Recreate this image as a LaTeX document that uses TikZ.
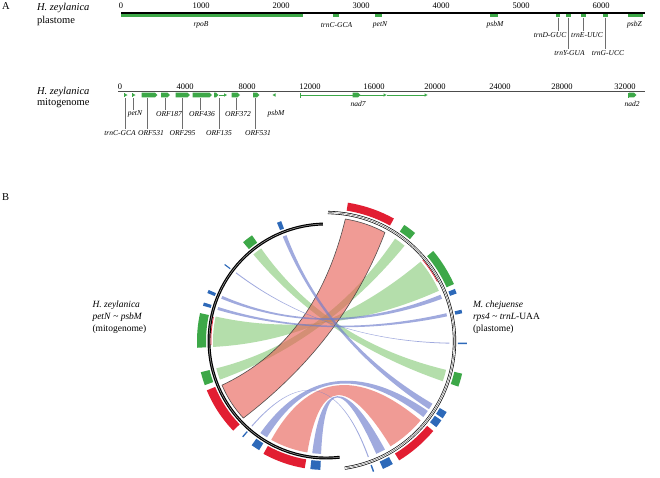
\documentclass[tikz,border=0pt]{standalone}
\usepackage{fontspec}
\setmainfont{Liberation Serif}
\usetikzlibrary{arrows.meta,calc}

\definecolor{gblk}{RGB}{61,168,72}
\definecolor{grib}{RGB}{130,200,115}
\definecolor{rblk}{RGB}{226,30,50}
\definecolor{rrib}{RGB}{232,95,85}
\definecolor{bblk}{RGB}{45,105,185}
\definecolor{brib}{RGB}{110,125,205}
\definecolor{lead}{RGB}{110,110,110}

\newcommand{\ribL}{113}
\newcommand{\ribR}{123.5}
% untwisted ribbon: style, left a1, a2, right b1, b2
\newcommand{\myribbon}[5]{\path[#1] ({#2}:\ribL) arc[start angle={#2}, end angle={#3}, radius=\ribL] .. controls ({#3}:{\ribL/3}) and ({#4}:{\ribR/3}) .. ({#4}:\ribR) arc[start angle={#4}, end angle={#5}, radius=\ribR] .. controls ({#5}:{\ribR/3}) and ({#2}:{\ribL/3}) .. cycle;}
% twisted ribbon
\newcommand{\myribbonx}[5]{\path[#1] ({#2}:\ribL) arc[start angle={#2}, end angle={#3}, radius=\ribL] .. controls ({#3}:{\ribL/3}) and ({#5}:{\ribR/3}) .. ({#5}:\ribR) arc[start angle={#5}, end angle={#4}, radius=\ribR] .. controls ({#4}:{\ribR/3}) and ({#2}:{\ribL/3}) .. cycle;}
% block: colour, a1, a2, r1, r2
\newcommand{\myblock}[5]{\fill[#1] ({#2}:#4) arc[start angle={#2}, end angle={#3}, radius=#4] -- ({#3}:#5) arc[start angle={#3}, end angle={#2}, radius=#5] -- cycle;}
% gene arrow on mitogenome track
\newcommand{\garrow}[2]{\fill[gblk] (#1,92.7) -- ({#2-2.5},92.7) -- (#2,95) -- ({#2-2.5},97.3) -- (#1,97.3) -- cycle;}
\newcommand{\gtip}[1]{\fill[gblk] (#1,93.3) -- ({#1+3},95) -- (#1,96.7) -- cycle;}

\begin{document}
\begin{tikzpicture}[x=1pt,y=-1pt, every node/.style={inner sep=0pt, outer sep=0pt},
  num/.style={font=\fontsize{8.5}{10}\selectfont},
  gene/.style={font=\fontsize{7.5}{9}\selectfont\itshape},
  ttl/.style={font=\fontsize{10.5}{12}\selectfont, anchor=west},
  leadline/.style={draw=lead, line width=0.6pt},
  gR/.style={fill=grib, fill opacity=0.6},
  bR/.style={fill=brib, fill opacity=0.65},
  rR/.style={fill=rrib, fill opacity=0.62}]
\useasboundingbox[fill=white] (0,0) rectangle (660,477);

% ---------------- A: plastome ----------------
\node[ttl] (A) at (2,6) {A};
\node[ttl] (hz1) at (37,8.3) {\textit{H. zeylanica}};
\node[ttl] (pl) at (37,20.7) {plastome};

\coordinate (p0) at (121,13);
\coordinate (p1) at (645,13);
\draw[line width=1.6pt] (p0) -- (p1);
\foreach \t/\x in {0/121,1000/201,2000/281,3000/361,4000/441,5000/521,6000/601}
  \node[num] (pt\t) at (\x,6) {\t};

\foreach \a/\b in {121/303, 333/338.5, 375/382, 490/498, 555.5/560, 565.5/571, 581/586, 603/607.5, 628/643}
  \fill[gblk] (\a,14.4) rectangle (\b,17);

\node[gene] (rpoB) at (201,25) {rpoB};
\node[gene] (trnC) at (336.5,25) {trnC-GCA};
\node[gene] (petN) at (380,25) {petN};
\node[gene] (psbM) at (495,25) {psbM};
\node[gene] (psbZ) at (634.5,25) {psbZ};
\node[gene] (trnD) at (550,35) {trnD-GUC};
\node[gene] (trnE) at (587,35) {trnE-UUC};
\node[gene] (trnY) at (569.5,53) {trnY-GUA};
\node[gene] (trnG) at (608,53) {trnG-UCC};
\draw[leadline] (557.8,17.5) -- (557.8,31);
\draw[leadline] (568.2,17.5) -- (568.2,48.5);
\draw[leadline] (583.5,17.5) -- (583.5,31);
\draw[leadline] (605.2,17.5) -- (605.2,48.5);

% ---------------- A: mitogenome ----------------
\node[ttl] (hz2) at (37,92.3) {\textit{H. zeylanica}};
\node[ttl] (mi) at (37,103.3) {mitogenome};
\coordinate (m0) at (118,91.5);
\coordinate (m1) at (645,91.5);
\draw[line width=0.9pt, black!70] (m0) -- (m1);
\foreach \t/\x in {0/120,4000/185,8000/247,12000/310,16000/374,20000/435,24000/500,28000/562,32000/625}
  \node[num] (mt\t) at (\x,86.8) {\t};

% features
\draw[gblk, line width=0.6pt] (124,93) -- (124,97);
\gtip{124.5}
\draw[gblk, line width=0.6pt] (132,93) -- (132,97);
\gtip{132.5}
\garrow{141.5}{157.5}
\garrow{161}{170}
\garrow{175.5}{190}
\garrow{192.5}{212}
\garrow{214}{218.5}
\draw[gblk, line width=0.6pt] (218.5,95) -- (224,95);
\gtip{224}
\garrow{231.5}{240}
\garrow{253}{259.5}
\fill[gblk] (275.5,93.3) -- (272.5,95) -- (275.5,96.7) -- cycle;
\draw[gblk, line width=0.7pt] (300,92.5) -- (300,97.5);
\draw[gblk, line width=0.6pt] (300,95) -- (383.5,95);
\gtip{383.5}
\draw[gblk, line width=0.6pt] (386.5,95) -- (424.5,95);
\gtip{424.5}
\garrow{352.5}{360.5}
\draw[gblk, line width=0.7pt] (628.3,92.5) -- (628.3,97.5);
\garrow{629}{636.5}

\node[gene] (mtrnC) at (120,133.3) {trnC-GCA};
\node[gene] (mpetN) at (135,114) {petN};
\node[gene] (orfa) at (151,133.3) {ORF531};
\node[gene] (orfb) at (169,114) {ORF187};
\node[gene] (orfc) at (182.5,133.3) {ORF295};
\node[gene] (orfd) at (202,114) {ORF436};
\node[gene] (orfe) at (219,133.3) {ORF135};
\node[gene] (orff) at (238,114) {ORF372};
\node[gene] (orfg) at (258,133.3) {ORF531};
\node[gene] (mpsbM) at (276,114) {psbM};
\node[gene] (nad7) at (358,104) {nad7};
\node[gene] (nad2) at (632,104) {nad2};
\foreach \x in {125,147,182.3,219.3,255}
  \draw[leadline] (\x,98) -- (\x,128.8);
\foreach \x in {133,165,200,236.7}
  \draw[leadline] (\x,98) -- (\x,109.6);

% ---------------- B ----------------
\node[ttl] (B) at (2,197) {B};
\node[anchor=west, align=left, font=\fontsize{9.5}{12}\selectfont] (lab1) at (92.5,317)
  {\textit{H. zeylanica}\\\textit{petN} \textasciitilde{} \textit{psbM}\\(mitogenome)};
\node[anchor=west, align=left, font=\fontsize{9.5}{12}\selectfont] (lab2) at (473,317.5)
  {\textit{M. chejuense}\\\textit{rps4} \textasciitilde{} \textit{trnL}-UAA\\(plastome)};

\begin{scope}[shift={(326,341)}, y=1pt]
  % green ribbons
  \myribbonx{gR}{167.5}{183}{24}{40}
  \myribbon{gR}{125}{130}{-19}{-13.5}
  \myribbon{gR}{194}{200}{50.5}{56}
  % red ribbons
  \myribbon{rR}{241}{260.5}{-58.5}{-40}
  \path[rR, draw=black!75, draw opacity=0.9, line width=0.6pt]
    (203:\ribL) arc[start angle=203, end angle=223, radius=\ribL]
    .. controls ($(223:\ribL)!2/3!(18,0)$) and ($(61.5:\ribR)!2/3!(18,0)$) .. (61.5:\ribR)
    arc[start angle=61.5, end angle=81, radius=\ribR]
    .. controls ($(81:\ribR)!2/3!(-10,0)$) and ($(203:\ribL)!2/3!(-10,0)$) .. cycle;
  % blue ribbons
  \myribbon{bR}{110.5}{112.5}{-33.5}{-30.5}
  \myribbon{bR}{156.5}{158}{20}{22}
  \myribbon{bR}{162.5}{164}{11.5}{13}
  \myribbon{bR}{142.6}{143.1}{-1.2}{-0.8}
  \myribbon{bR}{228.7}{229.2}{-70.2}{-69.7}
  \myribbon{bR}{234.5}{238.5}{-38}{-34.5}
  \myribbon{bR}{263}{267.5}{-66}{-61.5}

  % left blocks
  \myblock{bblk}{110.5}{112.5}{120}{128}
  \myblock{gblk}{125}{130}{120}{129}
  \myblock{bblk}{142.7}{143.2}{120}{127}
  \myblock{bblk}{156.5}{158}{120}{128}
  \myblock{bblk}{162.5}{164}{120}{128}
  \myblock{gblk}{167.5}{183}{120}{129}
  \myblock{gblk}{194}{200}{120}{129}
  \myblock{rblk}{202.5}{224}{120}{129}
  \myblock{bblk}{228.7}{229.3}{120}{127}
  \myblock{bblk}{234.5}{238.5}{120}{128}
  \myblock{rblk}{241}{260.5}{120}{129}
  \myblock{bblk}{263}{267.5}{120}{129}
  % right blocks
  \myblock{rblk}{61}{81}{132}{140}
  \myblock{gblk}{50.5}{56}{132}{140}
  \myblock{gblk}{24}{40}{132}{140}
  \myblock{bblk}{20}{22}{132}{139}
  \myblock{bblk}{11.5}{13}{132}{139}
  \myblock{bblk}{-1.3}{-0.7}{132}{141}
  \myblock{gblk}{-19}{-13.5}{132}{140}
  \myblock{bblk}{-33.5}{-30.5}{132}{140}
  \myblock{bblk}{-38}{-34.5}{132}{140}
  \myblock{rblk}{-58.5}{-40}{132}{140}
  \myblock{bblk}{-66}{-61.5}{132}{140}
  \myblock{bblk}{-70.3}{-69.7}{132}{139}

  % ideogram arcs
  \draw[line width=1.2pt, double=black!35, double distance=0.5pt] (91.5:117) arc[start angle=91.5, end angle=276.7, radius=117];
  \draw[line width=0.65pt, double=white, double distance=1.9pt] (-81.6:128.5) arc[start angle=-81.6, end angle=89.1, radius=128.5];
  \draw[line width=0.35pt, black!70] (-81.6:128.5) arc[start angle=-81.6, end angle=89.1, radius=128.5];
  \draw[rblk, line width=0.7pt] (28:126.2) arc[start angle=28, end angle=40, radius=126.2];
  \draw[rblk, line width=0.7pt] (168:115.1) arc[start angle=168, end angle=182, radius=115.1];
\end{scope}
\end{tikzpicture}
\end{document}
